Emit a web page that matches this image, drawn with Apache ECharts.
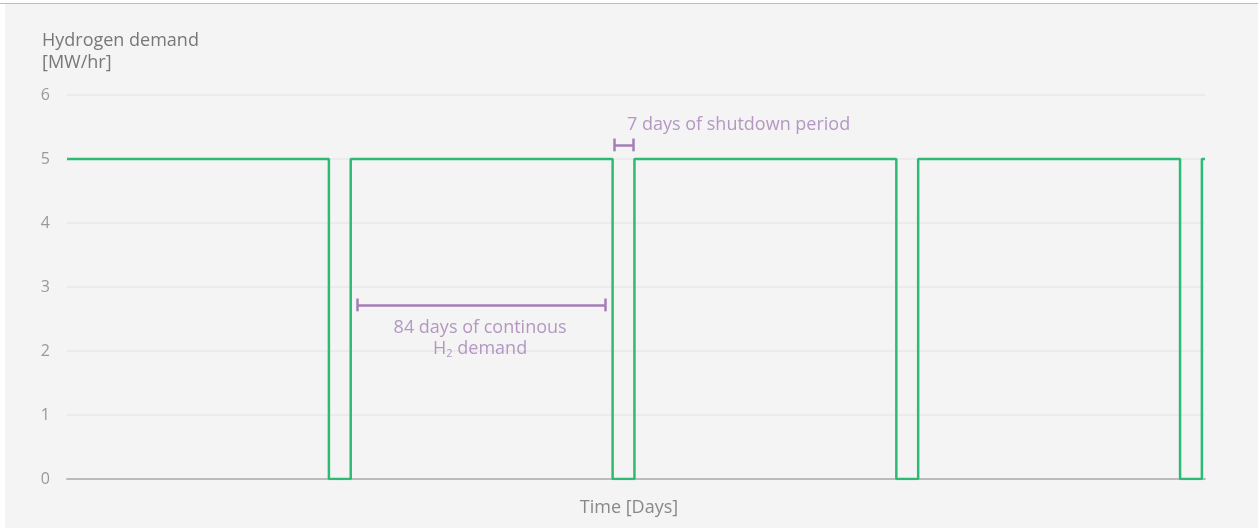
<!DOCTYPE html>
<html><head><meta charset="utf-8">
<script src="https://cdn.jsdelivr.net/npm/echarts@6/dist/echarts.min.js"></script>
<style>html,body{margin:0;padding:0;background:#fff}#c{width:1258px;height:528px}</style>
</head><body><div id="c"></div>
<script>
// Demand profile (day, MW/hr) — 84 days on, 7 days shutdown
const demandDays   = [0, 84, 84, 91, 91, 175, 175, 182, 182, 266, 266, 273, 273, 357, 357, 364, 364, 365];
const demandValues = [5, 5,  0,  0,  5,  5,   0,   0,   5,   5,   0,   0,   5,   5,   0,   0,   5,   5];
const yTicks = [0, 1, 2, 3, 4, 5, 6];
// annotation brackets: [startDay, endDay, level]
const bracketLong  = [93, 172.5, 2.72];
const bracketShort = [175.5, 181.5, 5.22];
const labelLong  = {day: 132.5, value: 2.2, text: '84 days of continous\nH{sub|2} demand'};
const labelShort = {day: 179.6, value: 5.54, text: '7 days of shutdown period'};

const purple = '#a47fb6';
const green = '#2dbb74';
const capH = 0.1;
function bracket(b, cap) {
  return [
    [{coord: [b[0], b[2]]}, {coord: [b[1], b[2]]}],
    [{coord: [b[0], b[2] - cap]}, {coord: [b[0], b[2] + cap]}],
    [{coord: [b[1], b[2] - cap]}, {coord: [b[1], b[2] + cap]}]
  ];
}
const chart = echarts.init(document.getElementById('c'));
chart.setOption({
  backgroundColor: '#f4f4f4',
  animation: false,
  textStyle: {fontFamily: 'Open Sans'},
  graphic: [
    {type: 'rect', left: 0, top: 0, shape: {width: 5, height: 528}, style: {fill: '#fff'}},
    {type: 'rect', left: 0, top: 0, shape: {width: 1258, height: 3}, style: {fill: '#fff'}},
    {type: 'rect', left: 0, top: 3, shape: {width: 1258, height: 1}, style: {fill: '#bdbdbd'}}
  ],
  title: {
    text: 'Hydrogen demand\n[MW/hr]', left: 37, top: 25,
    textStyle: {color: '#777', fontSize: 18, fontWeight: 'normal', lineHeight: 22, fontFamily: 'Open Sans'}
  },
  grid: {left: 67, right: 53, top: 95, bottom: 49},
  xAxis: {
    type: 'value', min: 0, max: 365,
    name: 'Time [Days]', nameLocation: 'middle', nameGap: 20,
    nameTextStyle: {color: '#888', fontSize: 18, padding: [0, 14, 0, 0]},
    axisLine: {show: true, onZero: false, lineStyle: {color: '#bbb', width: 2}},
    axisTick: {show: false}, axisLabel: {show: false}, splitLine: {show: false}
  },
  yAxis: {
    type: 'value', min: 0, max: 6, interval: 1,
    axisLine: {show: false}, axisTick: {show: false},
    axisLabel: {color: '#999', fontSize: 16, margin: 17},
    splitLine: {lineStyle: {color: '#ebebeb', width: 2}}
  },
  series: [
    {
      type: 'line', symbol: 'none',
      data: demandDays.map((d, i) => [d, demandValues[i]]),
      lineStyle: {color: green, width: 2.5},
      z: 3
    },
    {
      type: 'line', data: [], symbol: 'none',
      markLine: {
        silent: true, symbol: 'none', animation: false,
        lineStyle: {color: purple, width: 2.5, type: 'solid'},
        label: {show: false},
        data: bracket(bracketLong, capH).concat(bracket(bracketShort, capH))
      }
    },
    {
      type: 'scatter', symbolSize: 0, silent: true,
      data: [
        {value: [labelLong.day, labelLong.value], label: {formatter: labelLong.text, align: 'center'}},
        {value: [labelShort.day, labelShort.value], label: {formatter: labelShort.text, align: 'left'}}
      ],
      label: {
        show: true, position: 'inside', color: purple, fontSize: 18, fontWeight: 500, lineHeight: 21,
        verticalAlign: 'middle',
        rich: {sub: {fontSize: 11, color: purple, fontWeight: 500, verticalAlign: 'bottom', padding: [8, 0, 0, 0]}}
      }
    }
  ]
});
</script></body></html>
